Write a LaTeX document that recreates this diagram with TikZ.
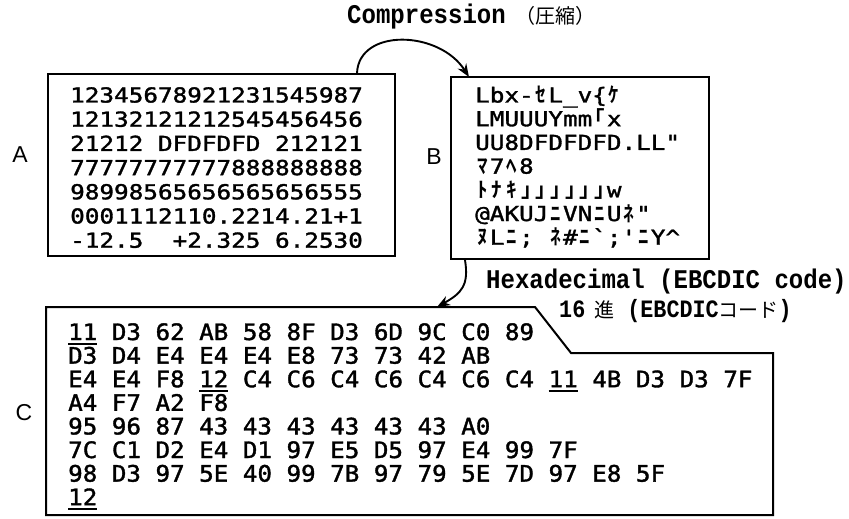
\documentclass[tikz,border=0pt]{standalone}
\usepackage{fontspec}
\usetikzlibrary{arrows.meta}
\newfontfamily\monoA{DejaVu Sans Mono}[FakeStretch=1.18,FakeBold=1.6]
\newfontfamily\monoC{DejaVu Sans Mono}[FakeStretch=1.07,FakeBold=1.6]
\newfontfamily\cjk{Noto Sans CJK JP}
\newfontfamily\cjkb{Noto Sans CJK JP Bold}
\newfontfamily\typew{Liberation Mono Bold}[FakeStretch=0.89]
\newfontfamily\typewb{Liberation Mono Bold}[FakeStretch=0.87]
\newfontfamily\labf{Liberation Sans}
\newcommand\kk[1]{\sbox0{0}\makebox[\wd0]{\cjkb\fontsize{21}{21}\selectfont #1}}
\newcommand\ulx[1]{\sbox0{#1}\rlap{\rule[-4.8pt]{\wd0}{1.8pt}}\box0\relax}
\tikzset{
  box/.style={draw, line width=2pt, inner sep=0pt},
  rowtxt/.style={anchor=base west, inner sep=0pt, font=\monoA\fontsize{20.6}{24}\selectfont},
  hexrow/.style={anchor=base west, inner sep=0pt, font=\monoC\fontsize{22.6}{24}\selectfont},
  lab/.style={font=\labf\fontsize{23}{23}\selectfont, inner sep=0pt},
  captxt/.style={anchor=base west, inner sep=0pt, font=\typew\fontsize{27}{27}\selectfont},
  captxtb/.style={anchor=base west, inner sep=0pt, font=\typewb\fontsize{25}{25}\selectfont},
  conn/.style={line width=1.9pt, -{Stealth[length=13pt,width=10pt]}}
}
\begin{document}
\begin{tikzpicture}[x=1pt,y=-1pt]
\fill[white] (0,0) rectangle (849,519);
\useasboundingbox (0,0) rectangle (849,519);

% caption
\node[captxt] (comp) at (347,24) {Compression\hspace{10pt}{\cjk\fontsize{20}{20}\selectfont （圧縮）}};

% box A
\node[box, anchor=north west, minimum width=347pt, minimum height=182pt] (boxA) at (47,73) {};
\foreach \t [count=\i] in {12345678921231545987,12132121212545456456,21212 DFDFDFD 212121,77777777777888888888,98998565656565656555,0001112110.2214.21+1,-12.5~ +2.325 6.2530}
  \node[rowtxt] (a\i) at (70,{102.5+24.2*(\i-1)}) {\t};
\node[lab] (labA) at (20,155) {A};

% box B
\node[box, anchor=north west, minimum width=258pt, minimum height=182pt] (boxB) at (450,76) {};
\node[rowtxt] (b1) at (475,102.5) {Lbx-\kk{ｾ}L\_v\{\kk{ｹ}};
\node[rowtxt] (b2) at (475,126.2) {LMUUUYmm\kk{｢}x};
\node[rowtxt] (b3) at (475,149.9) {UU8DFDFDFD.LL"};
\node[rowtxt] (b4) at (475,173.6) {\kk{ﾏ}7\kk{ﾍ}8};
\node[rowtxt] (b5) at (475,197.3) {\kk{ﾄ}\kk{ﾅ}\kk{ｷ}\kk{｣}\kk{｣}\kk{｣}\kk{｣}\kk{｣}\kk{｣}w};
\node[rowtxt] (b6) at (475,221.0) {@AKUJ\kk{ﾆ}VN\kk{ﾆ}U\kk{ﾈ}"};
\node[rowtxt] (b7) at (475,244.7) {\kk{ﾇ}L\kk{ﾆ}; \kk{ﾈ}\#\kk{ﾆ}`;'\kk{ﾆ}Y\textasciicircum};
\node[lab] (labB) at (434,157) {B};

% arrow A -> B
\draw[conn] ([xshift=-39pt]boxA.north east) .. controls +(2,-45) and +(-30,-47) .. ([xshift=19pt,yshift=-1pt]boxB.north west);

% hex caption
\node[captxt] (hex1) at (486,288) {Hexadecimal (EBCDIC code)};
\node[captxtb] (hex2) at (559,317) {16\hspace{9pt}{\cjk\fontsize{20}{20}\selectfont 進} (EBCDIC{\cjk\fontsize{20}{20}\selectfont コード})};

% box C
\coordinate (cIn) at (437,307);
\draw[line width=2pt, line join=miter] (46,307) -- (535,307) -- (571,353) -- (773,353) -- (773,515) -- (46,515) -- cycle;
\foreach \t [count=\i] in {\ulx{11} D3 62 AB 58 8F D3 6D 9C C0 89,D3 D4 E4 E4 E4 E8 73 73 42 AB,E4 E4 F8 \ulx{12} C4 C6 C4 C6 C4 C6 C4 \ulx{11} 4B D3 D3 7F,A4 F7 A2 F8,95 96 87 43 43 43 43 43 43 A0,7C C1 D2 E4 D1 97 E5 D5 97 E4 99 7F,98 D3 97 5E 40 99 7B 97 79 5E 7D 97 E8 5F,\ulx{12}}
  \node[hexrow] (c\i) at (68,{340+23.6*(\i-1)}) {\t};
\node[lab] (labC) at (24,413) {C};

% arrow B -> C
\draw[conn] ([xshift=15pt]boxB.south west) .. controls +(4,25) and +(25,-14) .. (cIn);
\end{tikzpicture}
\end{document}
